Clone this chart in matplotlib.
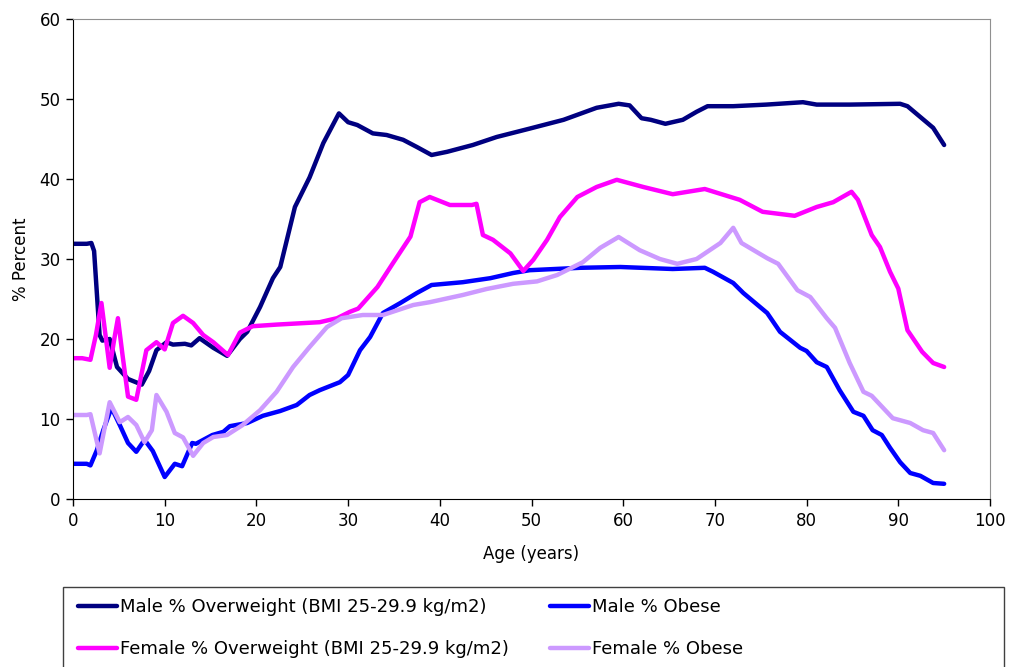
import matplotlib
matplotlib.use('Agg')
import matplotlib.pyplot as plt
from matplotlib.patches import Rectangle

# (age, percent) pairs
MALE_OVERWEIGHT = [
    (0, 31.9), (1.5, 31.9), (2.0, 32.0), (2.3, 31.0), (2.9, 20.5), (3.2, 19.8),
    (4.0, 20.0), (4.8, 16.5), (6.0, 15.0), (7.5, 14.3), (8.3, 16.0), (9.1, 18.6),
    (10.2, 19.6), (10.9, 19.3), (12.2, 19.4), (12.9, 19.2), (13.8, 20.1),
    (15.3, 18.9), (16.8, 17.9), (18.2, 20.0), (19.0, 20.9), (20.4, 24.0),
    (21.8, 27.6), (22.6, 29.0), (24.2, 36.5), (25.8, 40.2), (27.3, 44.5),
    (29.0, 48.2), (30.0, 47.1), (31.0, 46.75), (32.7, 45.7), (34.2, 45.5),
    (36.0, 44.9), (37.5, 44.0), (39.1, 43.0), (40.8, 43.4), (43.6, 44.25),
    (46.2, 45.25), (49.8, 46.3), (53.5, 47.4), (57.1, 48.9), (59.5, 49.4),
    (60.7, 49.2), (62.0, 47.6), (63.0, 47.4), (64.6, 46.9), (66.5, 47.4),
    (68.0, 48.4), (69.2, 49.1), (72.0, 49.1), (75.6, 49.3), (79.6, 49.6),
    (81.1, 49.3), (84.7, 49.3), (90.2, 49.4), (91.0, 49.1), (92.4, 47.75),
    (93.8, 46.4), (95.0, 44.25),
]
MALE_OBESE = [
    (0, 4.4), (1.5, 4.4), (1.9, 4.2), (2.6, 6.1), (3.3, 8.6), (4.2, 11.4),
    (5.1, 9.25), (6.0, 7.0), (6.9, 5.9), (7.8, 7.4), (8.7, 6.0), (10.0, 2.75),
    (11.1, 4.4), (11.9, 4.1), (13.0, 7.0), (13.4, 6.9), (15.2, 8.0), (16.4, 8.4),
    (17.1, 9.1), (19.0, 9.5), (20.7, 10.4), (22.6, 11.0), (24.4, 11.75),
    (25.8, 13.0), (26.9, 13.6), (29.1, 14.6), (30.0, 15.5), (31.3, 18.6),
    (32.4, 20.25), (33.8, 23.25), (35.7, 24.5), (37.5, 25.75), (39.1, 26.75),
    (42.5, 27.1), (45.5, 27.6), (48.0, 28.25), (49.8, 28.6), (55.3, 28.9),
    (59.7, 29.0), (65.4, 28.75), (68.9, 28.9), (69.8, 28.4), (72.0, 27.0),
    (73.1, 25.75), (75.7, 23.25), (77.1, 20.9), (79.3, 18.9), (80.0, 18.5),
    (81.1, 17.1), (82.2, 16.5), (83.6, 13.6), (85.1, 10.9), (86.2, 10.4),
    (87.2, 8.6), (88.2, 8.0), (89.1, 6.4), (90.2, 4.6), (91.3, 3.25),
    (92.4, 2.9), (93.8, 2.0), (95.0, 1.9),
]
FEMALE_OVERWEIGHT = [
    (0, 17.6), (1.0, 17.6), (1.9, 17.4), (2.5, 20.5), (3.1, 24.5), (3.6, 20.0),
    (4.0, 16.4), (4.5, 20.0), (4.9, 22.6), (5.4, 18.0), (6.0, 12.8), (6.9, 12.4),
    (8.0, 18.6), (9.1, 19.6), (10.0, 18.7), (10.9, 22.0), (12.0, 22.9),
    (13.1, 22.0), (14.2, 20.5), (15.3, 19.6), (16.9, 18.0), (18.2, 20.8),
    (19.6, 21.6), (22.2, 21.8), (26.9, 22.1), (28.8, 22.6), (30.2, 23.4),
    (31.1, 23.8), (33.2, 26.5), (34.9, 29.5), (36.8, 32.8), (37.8, 37.1),
    (38.9, 37.75), (41.1, 36.75), (43.5, 36.75), (44.0, 36.9), (44.7, 33.0),
    (45.8, 32.4), (47.7, 30.7), (49.1, 28.5), (50.2, 29.9), (51.7, 32.4),
    (53.1, 35.25), (55.0, 37.75), (57.1, 39.0), (59.3, 39.9), (62.2, 39.0),
    (65.4, 38.1), (68.9, 38.75), (72.7, 37.4), (75.2, 35.9), (78.7, 35.4),
    (81.1, 36.5), (82.9, 37.1), (84.9, 38.4), (85.6, 37.4), (87.1, 33.0),
    (88.0, 31.5), (89.1, 28.4), (90.0, 26.3), (91.0, 21.1), (92.6, 18.4),
    (93.8, 17.0), (95.0, 16.5),
]
FEMALE_OBESE = [
    (0, 10.5), (1.5, 10.5), (1.9, 10.6), (2.9, 5.7), (4.0, 12.1), (5.1, 9.6),
    (6.0, 10.25), (6.9, 9.25), (7.8, 7.1), (8.6, 8.6), (9.1, 13.0), (10.2, 10.9),
    (11.1, 8.25), (12.0, 7.7), (13.1, 5.4), (14.2, 7.0), (15.3, 7.75),
    (16.8, 8.0), (18.5, 9.25), (20.4, 11.1), (22.2, 13.4), (24.0, 16.5),
    (25.8, 19.0), (27.7, 21.5), (29.3, 22.6), (31.6, 23.0), (33.8, 23.0),
    (37.1, 24.25), (38.9, 24.6), (42.5, 25.5), (45.1, 26.25), (48.0, 26.9),
    (50.6, 27.2), (52.8, 28.0), (55.6, 29.6), (57.5, 31.4), (59.5, 32.75),
    (61.8, 31.1), (64.0, 30.0), (65.9, 29.4), (68.0, 30.0), (70.6, 32.0),
    (72.0, 33.9), (72.9, 32.0), (75.7, 30.1), (76.9, 29.4), (79.0, 26.1),
    (80.4, 25.25), (82.2, 22.6), (83.1, 21.4), (84.7, 17.0), (86.2, 13.4),
    (87.1, 12.9), (89.4, 10.1), (91.3, 9.5), (92.7, 8.6), (93.8, 8.25),
    (95.0, 6.1),
]

SERIES = [
    ('Male % Overweight (BMI 25-29.9 kg/m2)', MALE_OVERWEIGHT, '#000080'),
    ('Male % Obese', MALE_OBESE, '#0000FF'),
    ('Female % Overweight (BMI 25-29.9 kg/m2)', FEMALE_OVERWEIGHT, '#FF00FF'),
    ('Female % Obese', FEMALE_OBESE, '#CC99FF'),
]

X_TICKS = list(range(0, 101, 10))
Y_TICKS = list(range(0, 61, 10))

plt.rcParams.update({'font.family': 'DejaVu Sans', 'font.size': 12})

W, H = 1010, 667
fig = plt.figure(figsize=(W / 100, H / 100), dpi=100)
ax = fig.add_axes([73 / W, 1 - 499 / H, (990 - 73) / W, (499 - 19) / H])

lines = []
for label, pts, color in SERIES:
    xs = [p[0] for p in pts]
    ys = [p[1] for p in pts]
    ln, = ax.plot(xs, ys, color=color, lw=3.2, label=label,
                  solid_joinstyle='round', solid_capstyle='round')
    lines.append(ln)

ax.set_xlim(0, 100); ax.set_ylim(0, 60)
ax.set_xticks(X_TICKS); ax.set_yticks(Y_TICKS)
ax.tick_params(direction='out', length=5, width=1, colors='black', pad=4)
for s in ('top', 'right'):
    ax.spines[s].set_color('#909090')
for s in ('left', 'bottom'):
    ax.spines[s].set_color('black')
ax.set_xlabel('Age (years)', labelpad=11)
ax.set_ylabel('% Percent', labelpad=7)

# legend box below the plot
fig.add_artist(Rectangle((62.5 / W, -0.05), (1004 - 62.5) / W, 1 - 586.5 / H + 0.05,
                         transform=fig.transFigure, fill=False,
                         edgecolor='#404040', lw=1))
fig.legend(handles=[lines[0], lines[2], lines[1], lines[3]], ncol=2,
           loc='upper left', bbox_to_anchor=(71 / W, 1 - 591 / H),
           frameon=False, handlelength=2.15, handletextpad=0.15,
           labelspacing=1.33, columnspacing=2.3, borderaxespad=0,
           fontsize=13)

fig.savefig('out.png', dpi=100)
